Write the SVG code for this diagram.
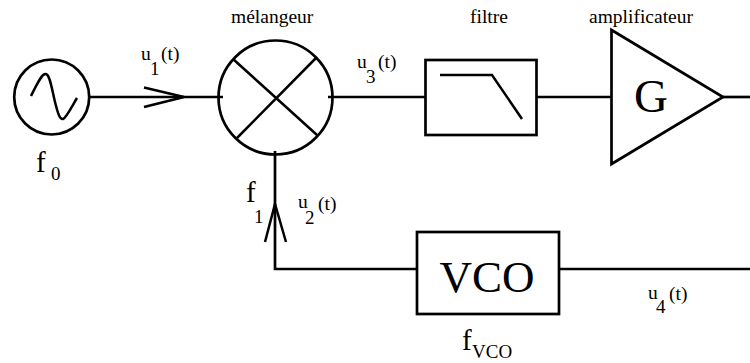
<svg xmlns="http://www.w3.org/2000/svg" width="750" height="363" viewBox="0 0 750 363">
<style>
text{font-family:"Liberation Serif","Times New Roman",serif;fill:#000}
.s{fill:none;stroke:#000;stroke-width:2.7}
.n{fill:none;stroke:#000;stroke-width:2.5}
.l{font-size:19.500px}
.m{font-size:19px}
.b{font-size:29px}
</style>
<rect width="750" height="363" fill="#fff"/>
<g id="connectors">
<path class="s" d="M89 97H223"/>
<path class="n" d="M144 87.500L184 97L144 107"/>
<path class="s" d="M328 97H425"/>
<path class="s" d="M537 97H611"/>
<path class="s" d="M723 97H750"/>
<path class="s" d="M275 151V269H417"/>
<path class="n" d="M265 242L275 204L286 242"/>
<path class="s" d="M559 269H750"/>
</g>
<g id="source">
<circle class="s" cx="51.700" cy="97" r="37.500"/>
<path class="n" d="M31 96C38 82 42 73 46 74C50 75 52 90 55 102C58 114 60 120 63 119C66 118 71 108 77 98"/>
<text class="b" x="36" y="172">f</text><text class="m" x="51" y="180">0</text>
</g>
<g id="mixer">
<circle class="s" cx="275.500" cy="97.500" r="57"/>
<path class="n" d="M233 59L317 135M316 58L237 138"/>
<text class="l" x="231" y="23">mélangeur</text>
</g>
<g id="filter">
<rect class="s" x="425.500" y="60" width="111" height="75"/>
<path class="n" d="M440 75H492L522 119"/>
<text class="l" x="470" y="23">filtre</text>
</g>
<g id="amplifier">
<path class="s" d="M611.500 30L723 97L611.500 164Z"/>
<text x="634" y="112" style="font-size:47px">G</text>
<text class="l" x="589" y="23">amplificateur</text>
</g>
<g id="vco">
<rect class="s" x="417" y="232" width="142" height="82"/>
<text x="439.500" y="292" style="font-size:45px">VCO</text>
<text x="462" y="350" style="font-size:29px">f</text><text x="472" y="358" style="font-size:19px">VCO</text>
</g>
<g id="signal-labels">
<text class="l" x="141" y="60">u</text><text class="m" x="150" y="75">1</text><text class="l" x="161" y="60">(t)</text>
<text class="l" x="357" y="68">u</text><text class="m" x="366" y="83">3</text><text class="l" x="378" y="68">(t)</text>
<text class="l" x="298" y="208">u</text><text class="m" x="305" y="224">2</text><text class="l" x="318" y="210">(t)</text>
<text class="l" x="648" y="299">u</text><text class="m" x="656" y="313">4</text><text class="l" x="669" y="300">(t)</text>
<text class="b" x="246" y="202">f</text><text class="m" x="254" y="223">1</text>
</g>
</svg>
